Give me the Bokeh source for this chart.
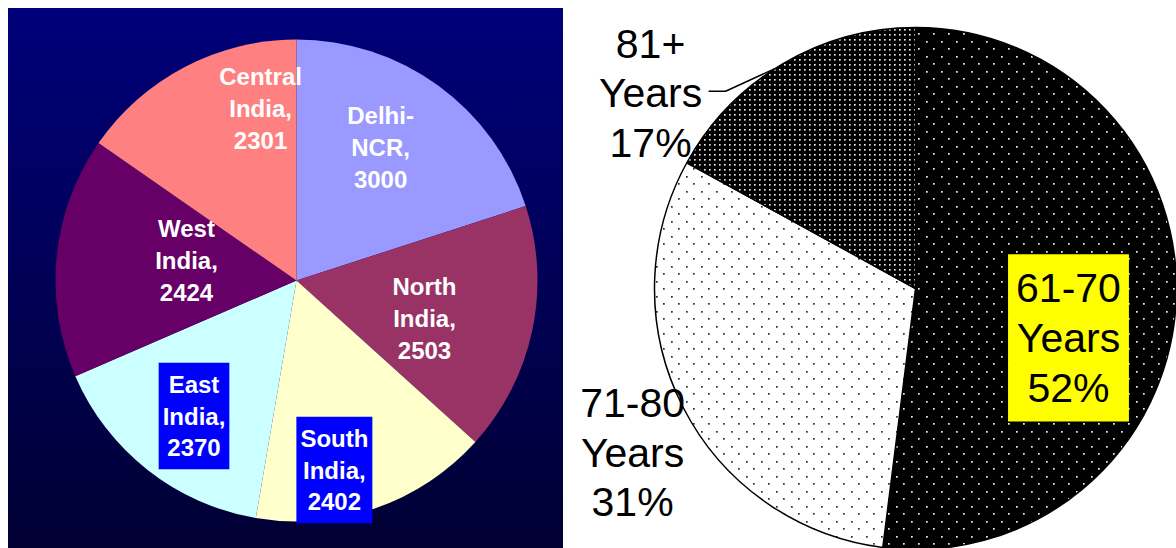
import math
import zlib
import struct
import base64
from bokeh.plotting import figure
from bokeh.layouts import row
from bokeh.models import Range1d, ColumnDataSource, ImageURLTexture
from bokeh.core.properties import value
from bokeh.embed import file_html
from bokeh.resources import INLINE

# ---------------- data ----------------
regions = ["Delhi-NCR", "North India", "South India", "East India", "West India", "Central India"]
region_counts = [3000, 2503, 2402, 2370, 2424, 2301]

age_groups = ["61-70 Years", "71-80 Years", "81+ Years"]
age_shares = [52, 31, 17]

# ---------------- styles ----------------
region_colors = ["#9999FF", "#993366", "#FFFFCC", "#CCFFFF", "#660066", "#FF8080"]
region_boxed = [False, False, True, True, False, False]
# label placement: (degrees clockwise from 12 o'clock, fraction of radius)
region_label_polar = [(32.3, 0.653), (106.5, 0.554), (168.7, 0.802),
                      (217.1, 0.705), (280.3, 0.464), (348.2, 0.729)]
age_fill = ["black", "white", "black"]
age_hatch = ["sparse_white", "sparse_black", "dense_white"]
age_label_polar = [(107.9, 0.616), (239.9, 1.253), (306.4, 1.261)]

W_L, W_R, H = 555, 613, 540
L_CX, L_CY, L_R = 288, 268, 241
R_CX, R_CY, R_R = 352, 260, 261


def wedge_angles(vals):
    tot = float(sum(vals))
    starts, ends, mids = [], [], []
    c = 0.0
    for v in vals:
        a0 = c / tot
        c += v
        a1 = c / tot
        starts.append(math.pi / 2 - a1 * 2 * math.pi)
        ends.append(math.pi / 2 - a0 * 2 * math.pi)
        mids.append((a0 + a1) / 2 * 360.0)
    return starts, ends, mids


def polar(cx, cy, r, deg, frac):
    t = math.radians(deg)
    return cx + r * frac * math.sin(t), cy + r * frac * math.cos(t)


def bare(fig):
    fig.grid.visible = False
    fig.outline_line_color = None
    return fig


def dot_tile_png(size, rgb, dots, kernel):
    """Small transparent PNG tile with soft dots (used as a fill texture)."""
    px = [[(0, 0, 0, 0)] * size for _ in range(size)]
    for (cx, cy) in dots:
        for dx, dy, a in kernel:
            px[(cy + dy) % size][(cx + dx) % size] = (rgb[0], rgb[1], rgb[2], a)
    raw = b"".join(b"\x00" + b"".join(bytes(p) for p in r) for r in px)

    def chunk(tag, data):
        c = struct.pack(">I", len(data)) + tag + data
        return c + struct.pack(">I", zlib.crc32(tag + data) & 0xFFFFFFFF)

    png = b"\x89PNG\r\n\x1a\n" + chunk(b"IHDR", struct.pack(">IIBBBBB", size, size, 8, 6, 0, 0, 0)) \
        + chunk(b"IDAT", zlib.compress(raw)) + chunk(b"IEND", b"")
    return "data:image/png;base64," + base64.b64encode(png).decode()


SOFT = [(0, 0, 235), (1, 0, 170), (0, 1, 170), (1, 1, 120)]
MEDIUM = [(0, 0, 240), (1, 0, 150), (0, 1, 150), (1, 1, 100)]

# ---------------- left pie ----------------
left = bare(figure(width=W_L, height=H, x_range=Range1d(0, W_L), y_range=Range1d(0, H),
                   output_backend="svg", toolbar_location=None, min_border=0,
                   x_axis_location=None, y_axis_location=None))
left.background_fill_color = None
left.border_fill_color = None
left.styles = {"background": "linear-gradient(to bottom, #00007A 0%, #000033 100%)"}

ls, le, lm = wedge_angles(region_counts)
left.wedge(x=L_CX, y=L_CY, radius=L_R, start_angle=ls, end_angle=le,
           fill_color=region_colors, line_color=None)

lab = {"plain": dict(x=[], y=[], t=[]), "boxed": dict(x=[], y=[], t=[])}
for name, cnt, (deg, fr), bx in zip(regions, region_counts, region_label_polar, region_boxed):
    x, y = polar(L_CX, L_CY, L_R, deg, fr)
    txt = name.replace("-", "-\n").replace(" ", "\n") + ",\n" + str(cnt)
    d = lab["boxed" if bx else "plain"]
    d["x"].append(x); d["y"].append(y); d["t"].append(txt)

common_l = dict(text_color="white", text_font=value("Liberation Sans"), text_font_style="bold",
                text_font_size="24px", text_align="center", text_baseline="middle",
                text_line_height=1.175)
left.text(x="x", y="y", text="t", source=ColumnDataSource(lab["plain"]), **common_l)
left.text(x="x", y="y", text="t", source=ColumnDataSource(lab["boxed"]),
          background_fill_color="#0000FF", padding=(4, 8), **common_l)

# ---------------- right pie ----------------
right = bare(figure(width=W_R, height=H, x_range=Range1d(0, W_R), y_range=Range1d(0, H),
                    output_backend="svg", toolbar_location=None, min_border=0,
                    x_axis_location=None, y_axis_location=None))
right.background_fill_color = "white"
right.border_fill_color = "white"

textures = {
    "sparse_white": ImageURLTexture(url=dot_tile_png(15, (255, 255, 255), [(3, 3), (10, 10)], SOFT)),
    "sparse_black": ImageURLTexture(url=dot_tile_png(15, (30, 30, 30), [(3, 3), (10, 10)], SOFT)),
    "dense_white": ImageURLTexture(url=dot_tile_png(10, (255, 255, 255),
                                                    [(1, 1), (6, 1), (1, 6), (6, 6)], MEDIUM)),
}

rs, re_, rm = wedge_angles(age_shares)
rsrc = ColumnDataSource(dict(start=rs, end=re_, fill=age_fill, hp=age_hatch))
right.wedge(x=R_CX, y=R_CY, radius=R_R, start_angle="start", end_angle="end", source=rsrc,
            fill_color="fill", line_color="black", line_width=1.5,
            hatch_pattern="hp", hatch_extra=textures)

rlab = {"plain": dict(x=[], y=[], t=[]), "boxed": dict(x=[], y=[], t=[])}
pos = []
for i, (name, sh, (deg, fr)) in enumerate(zip(age_groups, age_shares, age_label_polar)):
    x, y = polar(R_CX, R_CY, R_R, deg, fr)
    pos.append((x, y))
    txt = name.replace(" ", "\n") + "\n" + f"{sh}%"
    d = rlab["boxed" if i == 0 else "plain"]
    d["x"].append(x); d["y"].append(y); d["t"].append(txt)

common_r = dict(text_color="black", text_font=value("Liberation Sans"),
                text_font_size="41px", text_align="center", text_baseline="middle",
                text_line_height=1.08)
right.text(x="x", y="y", text="t", source=ColumnDataSource(rlab["plain"]), **common_r)
right.text(x="x", y="y", text="t", source=ColumnDataSource(rlab["boxed"]),
           background_fill_color="#FFFF00", padding=(8, 11), **common_r)

# leader line for the 81+ label
lx, ly = pos[2]
ex, ey = polar(R_CX, R_CY, R_R, rm[2] - 2.0, 1.0)
right.line(x=[lx + 58, lx + 75, ex], y=[ly + 2, ly + 2, ey], line_color="black", line_width=1.5)

layout = row(left, right, margin=(8, 0, 0, 8))
open("out.html", "w").write(file_html(layout, INLINE))
